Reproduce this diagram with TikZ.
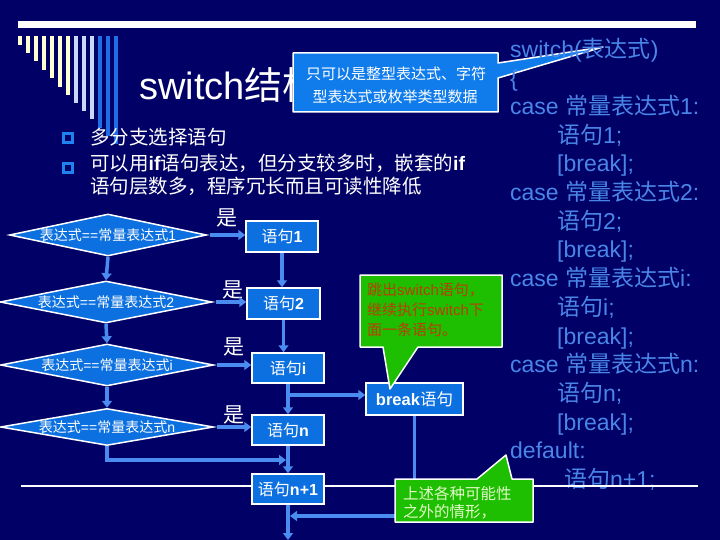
\documentclass[tikz,border=0pt]{standalone}
\usepackage{fontspec}
\setmainfont{Liberation Sans}
\newfontfamily\cjk{Noto Sans CJK SC}
\newcommand\zh[1]{{\cjk #1}}
\usetikzlibrary{arrows.meta,shapes.geometric}
\definecolor{bgc}{RGB}{0,0,102}
\definecolor{boxc}{RGB}{12,112,224}
\definecolor{callc}{RGB}{16,124,236}
\definecolor{flowc}{RGB}{74,140,240}
\definecolor{codec}{RGB}{74,134,232}
\definecolor{greenc}{RGB}{30,190,0}
\definecolor{redtxt}{RGB}{190,60,0}
\definecolor{paletxt}{RGB}{225,250,200}
\definecolor{cream}{RGB}{255,255,208}
\definecolor{lblue}{RGB}{200,216,248}
\definecolor{sblue}{RGB}{30,110,230}
\definecolor{bulc}{RGB}{30,130,240}
\tikzset{
  fs/.style={font=\fontsize{#1}{#1}\selectfont},
  codetxt/.style={anchor=base west, text=codec, fs=23, inner sep=0pt},
  bultxt/.style={anchor=base west, text=white, fs=19.5, inner sep=0pt},
  stepbox/.style={fill=boxc, draw=white, line width=1.5pt, text=white, fs=16,
    minimum width=72pt, minimum height=31pt, inner sep=0pt},
  decision/.style={diamond, fill=boxc, draw=white, line width=1.5pt, inner sep=0pt,
    minimum height=42pt},
  dlabel/.style={text=white, fs=14, inner sep=0pt},
  yes/.style={text=white, fs=21, inner sep=0pt},
  flowline/.style={draw=flowc, line width=3.5pt, -{Triangle[length=7pt,width=10pt]}},
  callout/.style={draw=white, line width=1.5pt, line join=round},
}
\begin{document}
\begin{tikzpicture}[x=1pt,y=-1pt]
\useasboundingbox (0,0) rectangle (720,540);
\fill[bgc] (0,0) rectangle (720,540);
% top decoration
\fill[white] (18,21) rectangle (696,28);
\foreach \i/\b/\c in {0/45/cream,1/53/cream,2/61/cream,3/70/cream,4/78/cream,5/87/cream,6/95/cream,
  7/103/lblue,8/111/lblue,9/119/lblue,10/128/sblue,11/136/sblue,12/144/sblue}
  \fill[\c] (18+8*\i,36) rectangle (22+8*\i,\b);
% title
\node[anchor=base west, text=white, fs=38, inner sep=0pt] (title) at (139,100) {switch\zh{结构}};
% blue callout
\draw[callout, fill=callc] (293,53) -- (498,53) -- (498,63) -- (603,47) -- (498,78) -- (498,112) -- (293,112) -- cycle;
\node[text=white, fs=15, inner sep=0pt] (ct1) at (396,73.5) {\zh{只可以是整型表达式、字符}};
\node[text=white, fs=15, inner sep=0pt] (ct2) at (395,96.5) {\zh{型表达式或枚举类型数据}};
% bullets
\draw[bulc, line width=2.5pt] (63.5,133.5) rectangle (72.5,142.5);
\draw[bulc, line width=2.5pt] (63.5,163.5) rectangle (72.5,172.5);
\node[bultxt] (b1) at (90,144.5) {\zh{多分支选择语句}};
\node[bultxt] (b2) at (90,171) {\zh{可以用}\textbf{if}\zh{语句表达，但分支较多时，嵌套的}\textbf{if}};
\node[bultxt] (b3) at (90,194) {\zh{语句层数多，程序冗长而且可读性降低}};
% code column
\node[codetxt] (c0) at (510,58) {switch(\zh{表达式})};
\node[codetxt] (c1) at (510,86.5) {\{};
\node[codetxt] (c2) at (510,115) {case \zh{常量表达式}1:};
\node[codetxt] (c3) at (557,143.5) {\zh{语句}1;};
\node[codetxt] (c4) at (557,172) {[break];};
\node[codetxt] (c5) at (510,200.5) {case \zh{常量表达式}2:};
\node[codetxt] (c6) at (557,229.2) {\zh{语句}2;};
\node[codetxt] (c7) at (557,257.9) {[break];};
\node[codetxt] (c8) at (510,286.6) {case \zh{常量表达式}i:};
\node[codetxt] (c9) at (557,315.3) {\zh{语句}i;};
\node[codetxt] (c10) at (557,344) {[break];};
\node[codetxt] (c11) at (510,372.7) {case \zh{常量表达式}n:};
\node[codetxt] (c12) at (557,401.4) {\zh{语句}n;};
\node[codetxt] (c13) at (557,430.1) {[break];};
\node[codetxt] (c14) at (510,458.8) {default:};
\node[codetxt] (c15) at (564,487.5) {\zh{语句}n+1;};
% white rule
\coordinate (wl1) at (21,486);
\coordinate (wl2) at (698,486);
\draw[white, line width=1.5pt] (wl1) -- (wl2);
% decisions
\node[decision, minimum width=197pt, label={[dlabel]center:\zh{表达式}==\zh{常量表达式}1}] (d1) at (108,235) {};
\node[decision, minimum width=212pt, label={[dlabel]center:\zh{表达式}==\zh{常量表达式}2}] (d2) at (106,302) {};
\node[decision, minimum width=213pt, label={[dlabel]center:\zh{表达式}==\zh{常量表达式}i}] (di) at (107,365) {};
\node[decision, minimum width=213pt, minimum height=37pt, label={[dlabel]center:\zh{表达式}==\zh{常量表达式}n}] (dn) at (107,427) {};
% statements
\node[stepbox] (s1) at (282,236.5) {\zh{语句}\textbf{1}};
\node[stepbox, minimum width=73pt] (s2) at (283.5,303.5) {\zh{语句}\textbf{2}};
\node[stepbox, minimum height=30pt] (si) at (288,368) {\zh{语句}\textbf{i}};
\node[stepbox, minimum height=30pt] (sn) at (288,430) {\zh{语句}\textbf{n}};
\node[stepbox, minimum height=30pt] (sn1) at (288,489) {\zh{语句}\textbf{n+1}};
\node[stepbox, minimum width=97pt, minimum height=32pt, fs=16.5] (brk) at (414.5,399) {\textbf{break}\zh{语句}};
% yes labels
\node[yes] (y1) at (227,218) {\zh{是}};
\node[yes] (y2) at (233,290) {\zh{是}};
\node[yes] (y3) at (234,347) {\zh{是}};
\node[yes] (y4) at (234,415) {\zh{是}};
% connectors
\draw[flowline] (d1.south) -- (d2.north);
\draw[flowline] (d2.south) -- (di.north);
\draw[flowline] (di.south) -- (dn.north);
\draw[flowline, shorten <=3pt] (d1.east) -- (d1.east -| s1.west);
\draw[flowline, shorten <=3pt] (d2.east) -- (d2.east -| s2.west);
\draw[flowline, shorten <=3pt] (di.east) -- (di.east -| si.west);
\draw[flowline, shorten <=3pt] (dn.east) -- (dn.east -| sn.west);
\draw[flowline] (s1.south) -- (s1.south |- s2.north);
\draw[flowline] (s2.south) -- (s2.south |- si.north);
\draw[flowline] (si.south) -- (sn.north);
\draw[flowline] (sn.south) -- (sn1.north);
\coordinate (out) at (288,540);
\draw[flowline] (sn1.south) -- (out);
\coordinate (jn) at (107,460);
\draw[flowline, shorten >=2pt] (dn.south) -- (jn) -- (jn -| sn.south);
\coordinate (jb) at (288,395);
\draw[flowline] (jb) -- (jb -| brk.west);
\coordinate (jd) at (414.5,516);
\draw[flowline, shorten >=2pt] (brk.south) -- (jd) -- (jd -| sn1.south);
% green callouts
\draw[callout, fill=greenc] (360,275) -- (502,275) -- (502,347) -- (418,347) -- (390,389) -- (383,347) -- (360,347) -- cycle;
\node[anchor=base west, text=redtxt, fs=15, inner sep=0pt] (g1) at (367,295.7) {\zh{跳出}switch\zh{语句，}};
\node[anchor=base west, text=redtxt, fs=15, inner sep=0pt] (g2) at (367,315.7) {\zh{继续执行}switch\zh{下}};
\node[anchor=base west, text=redtxt, fs=15, inner sep=0pt] (g3) at (367,335.7) {\zh{面一条语句。}};
\draw[callout, fill=greenc] (395,479) -- (477,479) -- (506,455) -- (512,479) -- (533,479) -- (533,522) -- (395,522) -- cycle;
\node[anchor=base west, text=paletxt, fs=15.5, inner sep=0pt] (g4) at (403,499.7) {\zh{上述各种可能性}};
\node[anchor=base west, text=paletxt, fs=15.5, inner sep=0pt] (g5) at (403,517.7) {\zh{之外的情形，}};
\end{tikzpicture}
\end{document}
